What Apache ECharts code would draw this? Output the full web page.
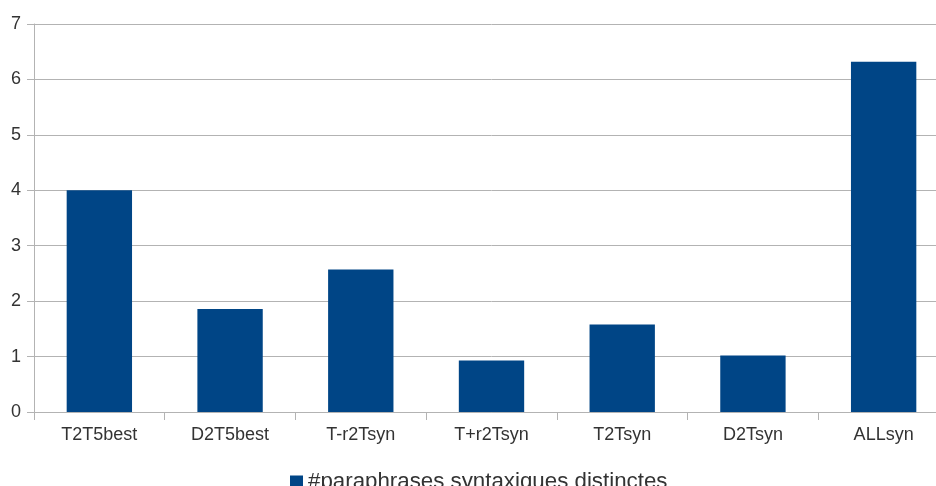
<!DOCTYPE html>
<html>
<head>
<meta charset="utf-8">
<script src="https://cdn.jsdelivr.net/npm/echarts@6/dist/echarts.min.js"></script>
<style>
html,body{margin:0;padding:0;background:#fff;overflow:hidden;width:936px;height:486px;}
#chart{width:949px;height:486px;}
</style>
</head>
<body>
<div id="chart"></div>
<script>
const categories = ['T2T5best', 'D2T5best', 'T-r2Tsyn', 'T+r2Tsyn', 'T2Tsyn', 'D2Tsyn', 'ALLsyn'];
const seriesName = '#paraphrases syntaxiques distinctes';
const values = [4.0, 1.86, 2.57, 0.93, 1.58, 1.02, 6.32];
const yTicks = { min: 0, max: 7, interval: 1 };

const chart = echarts.init(document.getElementById('chart'), null, { renderer: 'canvas' });
const font = '"Liberation Sans", Arial, sans-serif';
chart.setOption({
  animation: false,
  backgroundColor: '#ffffff',
  grid: { left: 34, top: 24, right: 0, bottom: 74, containLabel: false },
  legend: {
    data: [seriesName],
    left: 285,
    top: 466,
    itemWidth: 13,
    itemHeight: 13,
    icon: 'rect',
    textStyle: { fontFamily: font, fontSize: 22.3, color: '#333333' }
  },
  xAxis: {
    type: 'category',
    data: categories,
    axisLine: { lineStyle: { color: '#b3b3b3', width: 1 } },
    axisTick: { show: true, length: 8, lineStyle: { color: '#b3b3b3' } },
    axisLabel: { fontFamily: font, fontSize: 18, color: '#333333', margin: 14 }
  },
  yAxis: {
    type: 'value',
    min: yTicks.min,
    max: yTicks.max,
    interval: yTicks.interval,
    axisLine: { show: true, lineStyle: { color: '#b3b3b3', width: 1 } },
    axisTick: { show: true, length: 7, lineStyle: { color: '#b3b3b3' } },
    splitLine: { show: true, lineStyle: { color: '#b3b3b3', width: 1 } },
    axisLabel: { fontFamily: font, fontSize: 18, color: '#333333', margin: 13 }
  },
  series: [{
    name: seriesName,
    type: 'bar',
    data: values,
    barCategoryGap: '50%',
    itemStyle: { color: '#004586' }
  }]
});
</script>
</body>
</html>
